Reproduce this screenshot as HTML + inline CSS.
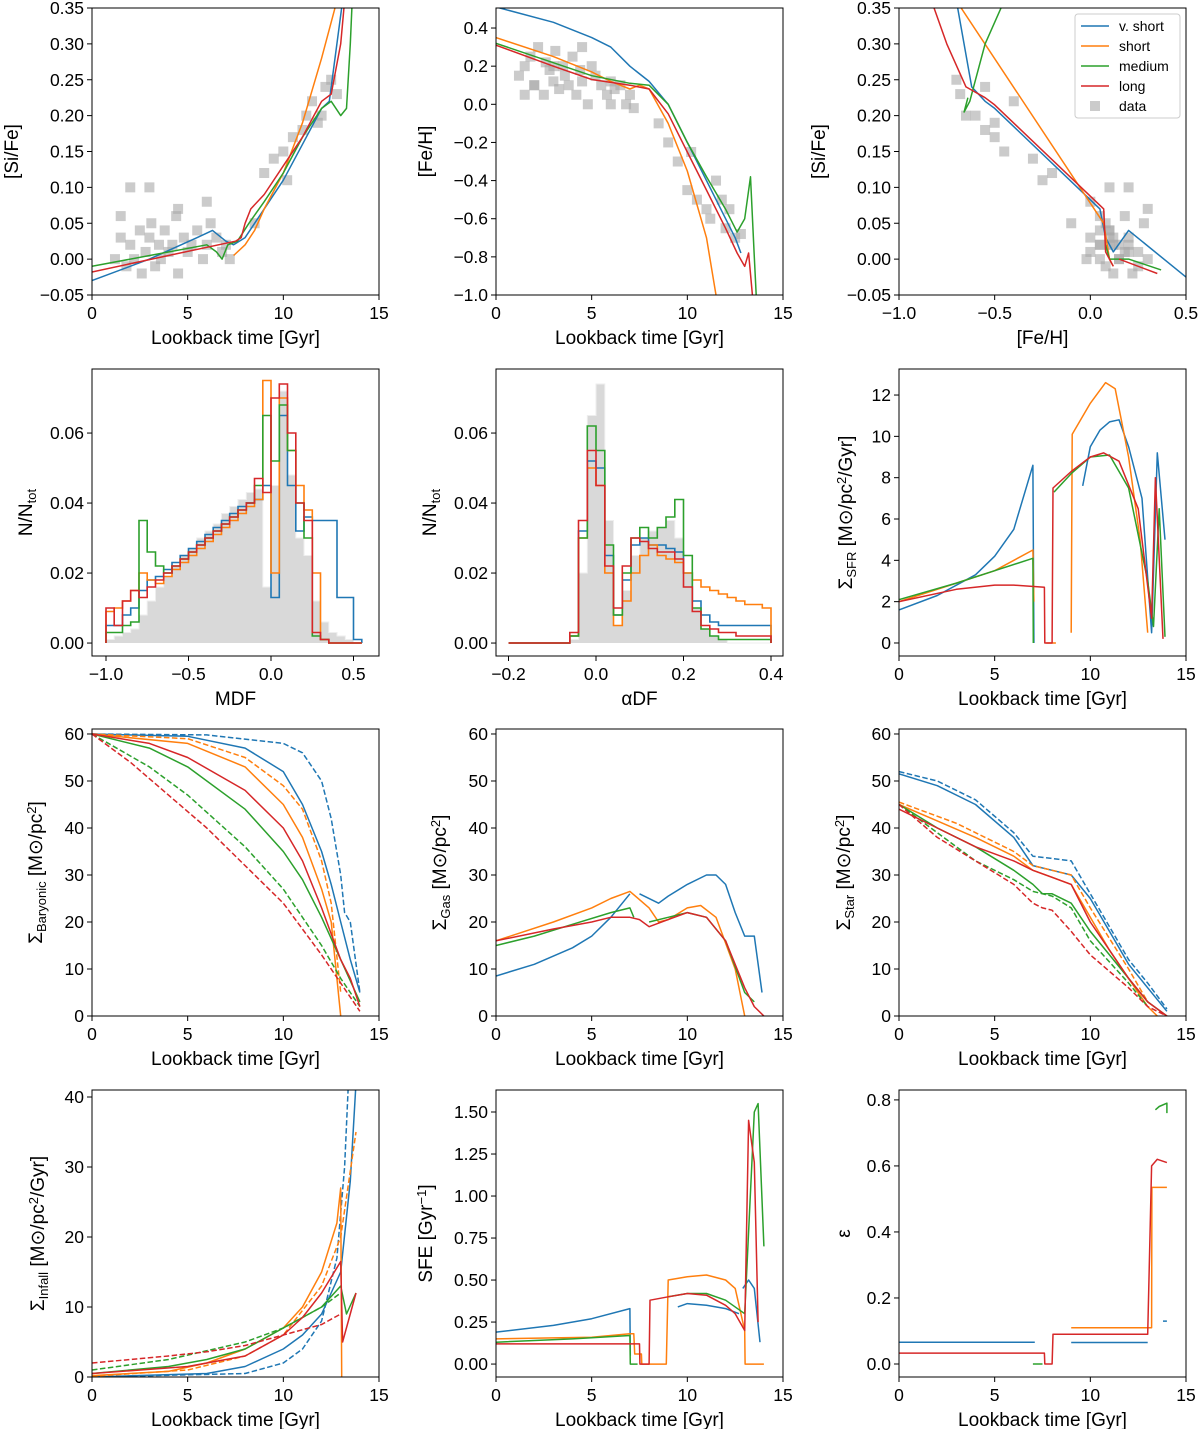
<!DOCTYPE html>
<html><head><meta charset="utf-8"><style>
body{margin:0;background:#fff}
svg{display:block;font-family:"Liberation Sans","DejaVu Sans",sans-serif}
</style></head><body>
<svg id="fig" width="1200" height="1429" viewBox="0 0 1200 1429" xmlns="http://www.w3.org/2000/svg"></svg>
<script>
// ---------- data ----------
const starAge=[1.2,1.5,1.8,2.0,2.2,2.5,2.6,2.8,3.0,3.1,3.3,3.5,3.6,3.8,4.0,4.2,4.4,4.5,4.8,5.0,5.2,5.5,5.8,6.0,6.2,6.5,6.8,7.0,7.2,2.0,3.0,6.0,1.5,4.5,8.5,9.0,9.5,10.0,10.5,11.0,11.2,11.5,12.0,12.2,12.5,10.2,11.8,12.8];
const starFeH=[0.15,0.2,0.25,0.1,0.3,0.05,0.22,0.18,0.12,0.28,0.08,0.2,0.15,0.1,0.25,0.05,0.18,0.12,0.0,0.2,0.15,0.1,0.05,0.12,0.08,0.1,0.0,0.05,-0.02,0.1,0.2,0.0,0.05,0.3,-0.1,-0.2,-0.3,-0.45,-0.5,-0.55,-0.6,-0.4,-0.65,-0.55,-0.7,-0.25,-0.5,-0.68];
const starSiFe=[0.0,0.03,-0.01,0.02,0.0,0.04,-0.02,0.01,0.03,0.05,-0.01,0.02,0.0,0.04,0.01,0.02,0.06,-0.02,0.03,0.01,0.02,0.04,0.0,0.02,0.05,0.03,0.01,0.02,0.0,0.1,0.1,0.08,0.06,0.07,0.05,0.12,0.14,0.15,0.17,0.18,0.2,0.22,0.2,0.24,0.25,0.11,0.19,0.23];

const p1Blue=[[0,-0.03],[3,0.0],[5.5,0.03],[6.3,0.04],[7,0.025],[7.4,0.02],[8,0.03],[9,0.07],[10,0.11],[11,0.16],[12,0.21],[12.4,0.22],[12.8,0.3],[13.1,0.36]];
const p1Orange=[[7.4,0.005],[8,0.02],[8.5,0.04],[9,0.07],[10,0.12],[11,0.19],[12,0.28],[12.8,0.36]];
const p1Green=[[0,-0.01],[6,0.02],[6.5,0.01],[6.8,0.0],[7.1,0.02],[7.6,0.025],[8.2,0.05],[9,0.08],[10,0.12],[11,0.17],[12,0.21],[12.5,0.22],[13,0.2],[13.3,0.21],[13.5,0.3],[13.6,0.36]];
const p1Red=[[0,-0.018],[4,0.005],[7.5,0.025],[7.8,0.03],[8,0.05],[8.3,0.07],[9,0.09],[10,0.13],[11,0.17],[11.6,0.2],[12,0.22],[12.5,0.23],[13,0.3],[13.2,0.36]];

const p2Blue=[[0,0.51],[3,0.43],[5,0.35],[6,0.3],[7,0.2],[8,0.12],[9,0.0],[10,-0.2],[11,-0.4],[12,-0.6],[12.5,-0.7],[12.8,-0.78]];
const p2Orange=[[0,0.35],[3,0.25],[5,0.17],[6,0.12],[7,0.08],[7.5,0.1],[8,0.08],[9,-0.1],[10,-0.35],[11,-0.7],[11.5,-1.0]];
const p2Green=[[0,0.32],[5,0.15],[7,0.11],[8,0.1],[9,0.0],[10,-0.2],[11,-0.38],[12,-0.55],[12.6,-0.67],[13,-0.6],[13.3,-0.38],[13.5,-0.8],[13.6,-1.0]];
const p2Red=[[0,0.31],[3,0.2],[5,0.13],[7,0.1],[8,0.08],[9,-0.05],[10,-0.25],[11,-0.45],[12,-0.65],[12.6,-0.78],[13,-0.85],[13.2,-0.78],[13.4,-1.0]];

const p3Blue=[[-0.7,0.36],[-0.62,0.24],[-0.55,0.22],[-0.5,0.21],[0.05,0.07],[0.08,0.03],[0.12,0.01],[0.2,0.04],[0.5,-0.025]];
const p3Orange=[[-0.7,0.36],[0.07,0.05],[0.1,0.0],[0.12,-0.01]];
const p3Green=[[-0.45,0.36],[-0.55,0.3],[-0.6,0.25],[-0.63,0.22],[-0.66,0.205],[-0.64,0.225],null,[0.08,0.02],[0.1,0.0],[0.2,0.0],[0.37,-0.015]];
const p3Red=[[-0.83,0.36],[-0.75,0.3],[-0.65,0.24],[-0.55,0.225],[-0.5,0.215],[0.07,0.07],[0.08,0.01],[0.12,-0.01],null,[0.15,0.0],[0.35,-0.02]];

const mdfEdges=[-1.0,-0.95,-0.9,-0.85,-0.8,-0.75,-0.7,-0.65,-0.6,-0.55,-0.5,-0.45,-0.4,-0.35,-0.3,-0.25,-0.2,-0.15,-0.1,-0.05,0.0,0.05,0.1,0.15,0.2,0.25,0.3,0.35,0.4,0.45,0.5,0.55];
const mdfGray=[0.001,0.002,0.003,0.004,0.008,0.012,0.016,0.019,0.022,0.025,0.027,0.03,0.032,0.034,0.037,0.039,0.041,0.043,0.044,0.016,0.045,0.072,0.048,0.03,0.025,0.012,0.006,0.003,0.002,0.001,0];
const mdfRed=[0.01,0.005,0.012,0.015,0.013,0.016,0.018,0.02,0.022,0.024,0.026,0.028,0.03,0.032,0.034,0.036,0.038,0.04,0.047,0.043,0.07,0.074,0.06,0.04,0.035,0.003,0.001,0,0,0,0];
const mdfGreen=[0.003,0.003,0.005,0.006,0.035,0.026,0.022,0.02,0.022,0.024,0.026,0.028,0.03,0.032,0.034,0.036,0.038,0.04,0.045,0.065,0.052,0.068,0.055,0.04,0.03,0.002,0.001,0,0,0,0];
const mdfOrange=[0.009,0.01,0.012,0.015,0.02,0.018,0.017,0.019,0.021,0.023,0.025,0.027,0.029,0.031,0.033,0.035,0.037,0.039,0.041,0.075,0.02,0.07,0.055,0.045,0.038,0.02,0.001,0,0,0,0];
const mdfBlue=[0.005,0.005,0.008,0.01,0.015,0.018,0.019,0.021,0.023,0.025,0.027,0.029,0.031,0.033,0.035,0.037,0.039,0.04,0.041,0.045,0.013,0.065,0.045,0.032,0.036,0.035,0.035,0.035,0.013,0.013,0.001];

const adfEdges=[-0.2,-0.18,-0.16,-0.14,-0.12,-0.1,-0.08,-0.06,-0.04,-0.02,0.0,0.02,0.04,0.06,0.08,0.1,0.12,0.14,0.16,0.18,0.2,0.22,0.24,0.26,0.28,0.3,0.32,0.34,0.36,0.38,0.4];
const adfGray=[0,0,0,0,0,0,0,0.001,0.02,0.065,0.074,0.035,0.005,0.015,0.025,0.03,0.032,0.033,0.035,0.03,0.02,0.01,0.004,0.002,0.001,0,0,0,0,0];
const adfRed=[0,0,0,0,0,0,0,0.003,0.035,0.055,0.045,0.022,0.01,0.022,0.03,0.029,0.027,0.026,0.026,0.024,0.016,0.009,0.005,0.004,0.003,0.003,0.002,0.002,0.002,0.002];
const adfGreen=[0,0,0,0,0,0,0,0.002,0.03,0.062,0.055,0.028,0.008,0.02,0.03,0.033,0.03,0.033,0.036,0.041,0.025,0.01,0.004,0.002,0.001,0.001,0.001,0.001,0.001,0.001];
const adfOrange=[0,0,0,0,0,0,0,0.002,0.03,0.05,0.045,0.02,0.005,0.012,0.02,0.025,0.028,0.025,0.024,0.023,0.02,0.018,0.016,0.015,0.014,0.013,0.012,0.011,0.011,0.01];
const adfBlue=[0,0,0,0,0,0,0,0.002,0.032,0.052,0.05,0.025,0.008,0.018,0.028,0.03,0.028,0.028,0.027,0.026,0.02,0.012,0.008,0.006,0.005,0.005,0.005,0.005,0.005,0.005];

const sfrBlue=[[0,1.6],[2,2.3],[4,3.3],[5,4.2],[6,5.5],[7,8.6],[7.05,0],null,[9.6,7.6],[10,9.5],[10.5,10.3],[11,10.7],[11.5,10.8],[12,9.5],[12.7,7],[13.2,0.5],[13.5,9.2],[13.9,5]];
const sfrOrange=[[0,2.0],[3,2.9],[5,3.5],[7,4.5],[7.05,2],null,[7.7,0],[8.2,0],null,[9.0,0.5],[9.05,10.1],[10,11.6],[10.8,12.6],[11.3,12.3],[12,9],[12.6,5],[13.0,0.5]];
const sfrGreen=[[0,2.1],[3,2.9],[5,3.5],[7,4.1],[7.02,0],null,[8.1,7.3],[9,8.2],[10,9.0],[11,9.1],[12,7.5],[13,3],[13.3,0.8],[13.6,6.5],[13.9,0.3]];
const sfrRed=[[0,2.0],[3,2.6],[5,2.8],[6,2.8],[7.6,2.7],[7.62,0],[8.0,0],[8.05,7.5],[9,8.3],[10,9.0],[10.7,9.2],[11.5,8.8],[12.5,6.5],[13.2,1.2],[13.4,8],[13.8,0.2]];

const barBlue=[[0,60],[5,59.5],[8,57],[10,52],[11,45],[12,35],[12.5,28],[13,20],[13.5,12],[14,5]];
const barBlueD=[[0,60],[6,59.8],[10,58],[11,56],[12,50],[12.5,42],[13,30],[13.2,22],[13.5,20],[14,5]];
const barOrange=[[0,60],[5,58],[8,53],[10,45],[11,38],[12,27],[12.5,20],[13,0]];
const barOrangeD=[[0,60],[5,59],[8,55],[10,49],[11,44],[12,33],[12.5,24],[13,5]];
const barGreen=[[0,60],[3,57],[5,53],[8,44],[10,35],[11,29],[12,21],[13,12],[14,3]];
const barGreenD=[[0,60],[3,53],[5,47],[8,36],[10,27],[12,15],[13,8],[14,2]];
const barRed=[[0,60],[3,58],[5,55],[8,48],[10,40],[11,33],[12,23],[13,12],[13.5,8],[14,2]];
const barRedD=[[0,60],[2,54],[4,47],[6,40],[8,32],[10,24],[12,13],[13,7],[14,1]];

const gasBlue=[[0,8.5],[2,11],[4,14.5],[5,17],[6,21],[7,26],null,[7.5,26],[8.5,24],[9,25.5],[10,28],[11,30],[11.5,30],[12,28],[12.5,22],[13,17],[13.5,17],[13.9,5]];
const gasOrange=[[0,16],[3,20],[5,23],[6,25],[7,26.5],[8,23],[8.5,20],[9,20.5],[10,23],[10.7,23.5],[11.5,21],[12.5,10],[13,0]];
const gasGreen=[[0,15],[2,17],[4,19.5],[6,22],[7,23],[7.2,21],null,[8,20],[9,21],[10,22],[11,21],[12,16],[13,5],[13.5,3]];
const gasRed=[[0,16],[3,18.5],[5,20],[6,21],[7,21],[7.5,20.5],[8,19],[9,20.5],[10,22],[11,21],[12,16],[13,6],[13.5,2],[14,0]];

const starBlue=[[0,51.5],[2,49],[4,45],[6,38],[7,32],[8,31],[9,30],[10,25],[11,18],[12,11],[13,6],[14,1]];
const starBlueD=[[0,52],[2,50],[4,46],[6,39],[7,34],[8,33.5],[9,33],[10,26],[11,19],[12,12],[13,7],[14,1.5]];
const starOrange=[[0,45],[2,41.5],[4,38],[6,34],[7,31],[8,29.5],[9,28],[10,21],[11,14],[12,8],[13,2],[13.5,0]];
const starOrangeD=[[0,45.5],[3,41],[6,35],[7,32],[8,31],[9,30],[10,23],[12,10],[13,3]];
const starGreen=[[0,45],[2,40],[4,36],[6,31],[7,28],[7.5,26],[8,26],[9,24],[10,18],[11,13],[12,8],[13,3],[14,0]];
const starGreenD=[[0,45],[2,39],[4,33],[6,29],[7,26.5],[8,25.5],[9,23],[10,16],[12,7],[13,2]];
const starRed=[[0,44],[2,40],[4,36],[6,33],[7,31],[8,29.5],[9,28],[10,20],[11,14],[12,8],[13,3],[14,0]];
const starRedD=[[0,45],[2,38],[4,33],[6,28],[7,24],[7.5,23],[8,22.5],[9,18],[10,13],[12,6],[13,2],[14,0]];

const infBlue=[[0,0],[6,0.5],[8,1.5],[10,4],[11,6],[12,9],[13,15],[13.5,28],[13.8,42]];
const infBlueD=[[0,0],[8,0.5],[10,2],[11,4],[12,8],[12.8,17],[13.2,30],[13.4,42]];
const infOrange=[[0,0.2],[4,0.8],[6,2],[8,4],[10,7],[11,10],[12,15],[12.8,22],[13,27],[13.05,0]];
const infOrangeD=[[0,0.1],[5,1],[8,3],[10,6],[12,13],[13,20],[13.8,35]];
const infGreen=[[0,0.5],[4,1.5],[6,2.5],[8,4],[10,7],[11,8.5],[12,10],[13,13],[13.3,9],[13.8,12]];
const infGreenD=[[0,1],[4,2.5],[8,5],[10,7],[12,10],[13,12]];
const infRed=[[0,0.5],[5,1.5],[8,3],[10,6],[11,8.5],[12,12],[13,16.5],[13.1,5],[13.8,12]];
const infRedD=[[0,2],[4,3],[6,3.6],[8,4.5],[10,6],[12,7.5],[13,9]];

const sfeBlue=[[0,0.19],[3,0.23],[5,0.27],[7,0.33],[7.02,0.05],null,[9.5,0.34],[10,0.36],[11,0.35],[12,0.33],[12.7,0.3],null,[12.9,0.45],[13.2,0.5],[13.5,0.45],[13.8,0.13]];
const sfeOrange=[[0,0.15],[5,0.16],[7,0.18],[7.2,0.18],[7.25,0.06],[7.6,0.06],[7.62,0.0],[8.9,0.0],[9.0,0.5],[10,0.52],[11,0.53],[12,0.5],[12.5,0.45],[13,0.2],[13.02,0.0],[14,0.0]];
const sfeGreen=[[0,0.13],[4,0.15],[7,0.17],[7.02,0.0],[7.4,0.0],null,[9,0.4],[10,0.42],[11,0.42],[12,0.38],[13,0.3],[13.5,1.5],[13.7,1.55],[14,0.7]];
const sfeRed=[[0,0.12],[7.5,0.12],[7.52,0.0],[8,0.0],[8.05,0.38],[9,0.4],[10,0.42],[11,0.41],[12,0.35],[12.5,0.3],[13,0.2],[13.2,1.45],[13.5,1.2],[13.7,0.25]];

const epsBlue=[[0,0.066],[7.1,0.066],null,[9,0.065],[13,0.065],null,[13.8,0.13],[14,0.13]];
const epsOrange=[[9,0.11],[13.2,0.11],[13.22,0.535],[14,0.535]];
const epsGreen=[[7,0.0],[7.5,0.0],null,[13.4,0.77],[13.6,0.78],[14,0.79],[14,0.76]];
const epsRed=[[0,0.033],[7.6,0.033],[7.62,0],[8,0],[8.05,0.09],[13,0.09],[13.2,0.6],[13.5,0.62],[14,0.61]];

// ---------- drawing ----------
const C={b:'#1f77b4',o:'#ff7f0e',g:'#2ca02c',r:'#d62728'};
const NS='http://www.w3.org/2000/svg';
const svg=document.getElementById('fig');
function el(tag,attrs,parent){const e=document.createElementNS(NS,tag);for(const k in attrs)e.setAttribute(k,attrs[k]);(parent||svg).appendChild(e);return e;}
let clipN=0;
function fmt(v,d){const s=v.toFixed(d);return s.replace('-','\u2212');}
function panel(o){
  const W=287,H=287;
  const g=el('g',{});
  
  
  const sx=d=>o.x+(d-o.xl[0])/(o.xl[1]-o.xl[0])*W;
  const sy=d=>o.y+H-(d-o.yl[0])/(o.yl[1]-o.yl[0])*H;
  const id='c'+(clipN++);
  const cp=el('clipPath',{id:id},g);el('rect',{x:o.x,y:o.y,width:W,height:H},cp);
  const data=el('g',{'clip-path':'url(#'+id+')'},g);
  
  
  o.xt.forEach(t=>{const X=sx(t);el('line',{x1:X,x2:X,y1:o.y+H,y2:o.y+H+5,stroke:'#000','stroke-width':1},g);
    const tx=el('text',{x:X,y:o.y+H+24,'font-size':17.5,'text-anchor':'middle'},g);tx.textContent=fmt(t,o.xd);
    });
  o.yt.forEach(t=>{const Y=sy(t);el('line',{x1:o.x-5,x2:o.x,y1:Y,y2:Y,stroke:'#000','stroke-width':1},g);
    const tx=el('text',{x:o.x-8,y:Y+6,'font-size':17.5,'text-anchor':'end'},g);tx.textContent=fmt(t,o.yd);
    });
  const xl=el('text',{x:o.x+W/2,y:o.y+H+49,'font-size':19,'text-anchor':'middle'},g);xl.innerHTML=o.xlab;
  
  const yl=el('text',{x:0,y:0,'font-size':19,'text-anchor':'middle',transform:`translate(${o.ylx},${o.y+H/2}) rotate(-90)`},g);yl.innerHTML=o.ylab;
  
  return {g,data,sx,sy,box:()=>{const b=el('rect',{x:o.x,y:o.y,width:W,height:H,fill:'none',stroke:'#000','stroke-width':1},g);}};
}
function line(p,pts,color,name,dash){
  let d='',pen=false;
  pts.forEach(q=>{if(!q){pen=false;return;}d+=(pen?'L':'M')+p.sx(q[0]).toFixed(1)+','+p.sy(q[1]).toFixed(1);pen=true;});
  const e=el('path',{d:d,fill:'none',stroke:color,'stroke-width':1.5,'stroke-linejoin':'round'},p.data);
  if(dash)e.setAttribute('stroke-dasharray','5.5,2.5');
  
  
}
function hist(p,edges,vals,color,name,fill){
  let d='M'+p.sx(edges[0]).toFixed(1)+','+p.sy(0).toFixed(1);
  vals.forEach((v,i)=>{d+='L'+p.sx(edges[i]).toFixed(1)+','+p.sy(v).toFixed(1)+'L'+p.sx(edges[i+1]).toFixed(1)+','+p.sy(v).toFixed(1);});
  d+='L'+p.sx(edges[edges.length-1]).toFixed(1)+','+p.sy(0).toFixed(1);
  const e=el('path',{d:d,fill:fill||'none',stroke:color,'stroke-width':fill?1:1.6},p.data);
  
  
}
function scatter(p,xs,ys,name){
  xs.forEach((x,i)=>{const r=el('rect',{x:p.sx(x)-5,y:p.sy(ys[i])-5,width:10,height:10,fill:'#a8a8a8','fill-opacity':0.6},p.data);
    
    });
}
const cols=[92,496,899],rows=[8,369,729,1090];
const TL='Lookback time [Gyr]';

// Panel 1
let p=panel({name:'sife-vs-time-panel',x:cols[0],y:rows[0],xl:[0,15],yl:[-0.05,0.35],xt:[0,5,10,15],xd:0,yt:[-0.05,0,0.05,0.1,0.15,0.2,0.25,0.3,0.35],yd:2,xlab:TL,ylab:'[Si/Fe]',ylx:18});
scatter(p,starAge,starSiFe,'data-point');
line(p,p1Blue,C.b,'line-v-short');line(p,p1Orange,C.o,'line-short');line(p,p1Green,C.g,'line-medium');line(p,p1Red,C.r,'line-long');p.box();
// Panel 2
p=panel({name:'feh-vs-time-panel',x:cols[1],y:rows[0],xl:[0,15],yl:[-1.0,0.505],xt:[0,5,10,15],xd:0,yt:[-1,-0.8,-0.6,-0.4,-0.2,0,0.2,0.4],yd:1,xlab:TL,ylab:'[Fe/H]',ylx:432});
scatter(p,starAge,starFeH,'data-point');
line(p,p2Blue,C.b,'line-v-short');line(p,p2Orange,C.o,'line-short');line(p,p2Green,C.g,'line-medium');line(p,p2Red,C.r,'line-long');p.box();
// Panel 3
p=panel({name:'sife-vs-feh-panel',x:cols[2],y:rows[0],xl:[-1,0.5],yl:[-0.05,0.35],xt:[-1,-0.5,0,0.5],xd:1,yt:[-0.05,0,0.05,0.1,0.15,0.2,0.25,0.3,0.35],yd:2,xlab:'[Fe/H]',ylab:'[Si/Fe]',ylx:825});
scatter(p,starFeH,starSiFe,'data-point');
line(p,p3Blue,C.b,'line-v-short');line(p,p3Orange,C.o,'line-short');line(p,p3Green,C.g,'line-medium');line(p,p3Red,C.r,'line-long');p.box();
// legend
const lg=el('g',{});
el('rect',{x:1075,y:14,width:105,height:104,rx:3,fill:'#fff','fill-opacity':0.85,stroke:'#ccc'},lg);
[['v. short',C.b],['short',C.o],['medium',C.g],['long',C.r],['data','#a8a8a8']].forEach((e,i)=>{
  const y=26+i*20;const it=el('g',{},lg);
  if(i<4)el('line',{x1:1081,x2:1109,y1:y,y2:y,stroke:e[1],'stroke-width':1.5},it);
  else el('rect',{x:1090,y:y-5,width:10,height:10,fill:e[1],'fill-opacity':0.6},it);
  const t=el('text',{x:1119,y:y+5,'font-size':14},it);t.textContent=e[0];});
// Panel 4
p=panel({name:'mdf-panel',x:cols[0],y:rows[1],xl:[-1.0848,0.6545],yl:[-0.0037,0.0783],xt:[-1,-0.5,0,0.5],xd:1,yt:[0,0.02,0.04,0.06],yd:2,xlab:'MDF',ylab:'N/N'+'<tspan font-size="13" dy="4">tot</tspan>',ylx:32});
hist(p,mdfEdges,mdfGray,'#eeeeee','hist-data','#d9d9d9');
hist(p,mdfEdges,mdfBlue,C.b,'hist-v-short');hist(p,mdfEdges,mdfOrange,C.o,'hist-short');hist(p,mdfEdges,mdfGreen,C.g,'hist-medium');hist(p,mdfEdges,mdfRed,C.r,'hist-long');p.box();
// Panel 5
p=panel({name:'alpha-df-panel',x:cols[1],y:rows[1],xl:[-0.2286,0.4274],yl:[-0.0037,0.0783],xt:[-0.2,0,0.2,0.4],xd:1,yt:[0,0.02,0.04,0.06],yd:2,xlab:'\u03b1DF',ylab:'N/N'+'<tspan font-size="13" dy="4">tot</tspan>',ylx:436});
hist(p,adfEdges,adfGray,'#eeeeee','hist-data','#d9d9d9');
hist(p,adfEdges,adfBlue,C.b,'hist-v-short');hist(p,adfEdges,adfOrange,C.o,'hist-short');hist(p,adfEdges,adfGreen,C.g,'hist-medium');hist(p,adfEdges,adfRed,C.r,'hist-long');p.box();
// Panel 6
p=panel({name:'sfr-panel',x:cols[2],y:rows[1],xl:[0,15],yl:[-0.63,13.26],xt:[0,5,10,15],xd:0,yt:[0,2,4,6,8,10,12],yd:0,xlab:TL,ylab:'\u03a3<tspan font-size="13" dy="4">SFR</tspan><tspan dy="-4"> [M\u2299/pc</tspan><tspan font-size="13" dy="-6">2</tspan><tspan dy="6">/Gyr]</tspan>',ylx:852});
line(p,sfrBlue,C.b,'line-v-short');line(p,sfrOrange,C.o,'line-short');line(p,sfrGreen,C.g,'line-medium');line(p,sfrRed,C.r,'line-long');p.box();
// Panel 7
const ylabS=s=>'\u03a3<tspan font-size="13" dy="4">'+s+'</tspan><tspan dy="-4"> [M\u2299/pc</tspan><tspan font-size="13" dy="-6">2</tspan><tspan dy="6">]</tspan>';
p=panel({name:'baryonic-panel',x:cols[0],y:rows[2],xl:[0,15],yl:[0,61.06],xt:[0,5,10,15],xd:0,yt:[0,10,20,30,40,50,60],yd:0,xlab:TL,ylab:ylabS('Baryonic'),ylx:42});
line(p,barBlue,C.b,'line-v-short');line(p,barBlueD,C.b,'line-v-short-dashed',1);line(p,barOrange,C.o,'line-short');line(p,barOrangeD,C.o,'line-short-dashed',1);
line(p,barGreen,C.g,'line-medium');line(p,barGreenD,C.g,'line-medium-dashed',1);line(p,barRed,C.r,'line-long');line(p,barRedD,C.r,'line-long-dashed',1);p.box();
// Panel 8
p=panel({name:'gas-panel',x:cols[1],y:rows[2],xl:[0,15],yl:[0,61.06],xt:[0,5,10,15],xd:0,yt:[0,10,20,30,40,50,60],yd:0,xlab:TL,ylab:ylabS('Gas'),ylx:446});
line(p,gasBlue,C.b,'line-v-short');line(p,gasOrange,C.o,'line-short');line(p,gasGreen,C.g,'line-medium');line(p,gasRed,C.r,'line-long');p.box();
// Panel 9
p=panel({name:'star-panel',x:cols[2],y:rows[2],xl:[0,15],yl:[0,61.06],xt:[0,5,10,15],xd:0,yt:[0,10,20,30,40,50,60],yd:0,xlab:TL,ylab:ylabS('Star'),ylx:850});
line(p,starBlue,C.b,'line-v-short');line(p,starBlueD,C.b,'line-v-short-dashed',1);line(p,starOrange,C.o,'line-short');line(p,starOrangeD,C.o,'line-short-dashed',1);
line(p,starGreen,C.g,'line-medium');line(p,starGreenD,C.g,'line-medium-dashed',1);line(p,starRed,C.r,'line-long');line(p,starRedD,C.r,'line-long-dashed',1);p.box();
// Panel 10
p=panel({name:'infall-panel',x:cols[0],y:rows[3],xl:[0,15],yl:[0,41],xt:[0,5,10,15],xd:0,yt:[0,10,20,30,40],yd:0,xlab:TL,ylab:'\u03a3<tspan font-size="13" dy="4">Infall</tspan><tspan dy="-4"> [M\u2299/pc</tspan><tspan font-size="13" dy="-6">2</tspan><tspan dy="6">/Gyr]</tspan>',ylx:44});
line(p,infBlue,C.b,'line-v-short');line(p,infBlueD,C.b,'line-v-short-dashed',1);line(p,infOrange,C.o,'line-short');line(p,infOrangeD,C.o,'line-short-dashed',1);
line(p,infGreen,C.g,'line-medium');line(p,infGreenD,C.g,'line-medium-dashed',1);line(p,infRed,C.r,'line-long');line(p,infRedD,C.r,'line-long-dashed',1);p.box();
// Panel 11
p=panel({name:'sfe-panel',x:cols[1],y:rows[3],xl:[0,15],yl:[-0.077,1.631],xt:[0,5,10,15],xd:0,yt:[0,0.25,0.5,0.75,1,1.25,1.5],yd:2,xlab:TL,ylab:'SFE [Gyr<tspan font-size="13" dy="-6">\u22121</tspan><tspan dy="6">]</tspan>',ylx:432});
line(p,sfeBlue,C.b,'line-v-short');line(p,sfeOrange,C.o,'line-short');line(p,sfeGreen,C.g,'line-medium');line(p,sfeRed,C.r,'line-long');p.box();
// Panel 12
p=panel({name:'epsilon-panel',x:cols[2],y:rows[3],xl:[0,15],yl:[-0.0394,0.83],xt:[0,5,10,15],xd:0,yt:[0,0.2,0.4,0.6,0.8],yd:1,xlab:TL,ylab:'\u03b5',ylx:850});
line(p,epsBlue,C.b,'line-v-short');line(p,epsOrange,C.o,'line-short');line(p,epsGreen,C.g,'line-medium');line(p,epsRed,C.r,'line-long');p.box();
</script>
</body></html>
